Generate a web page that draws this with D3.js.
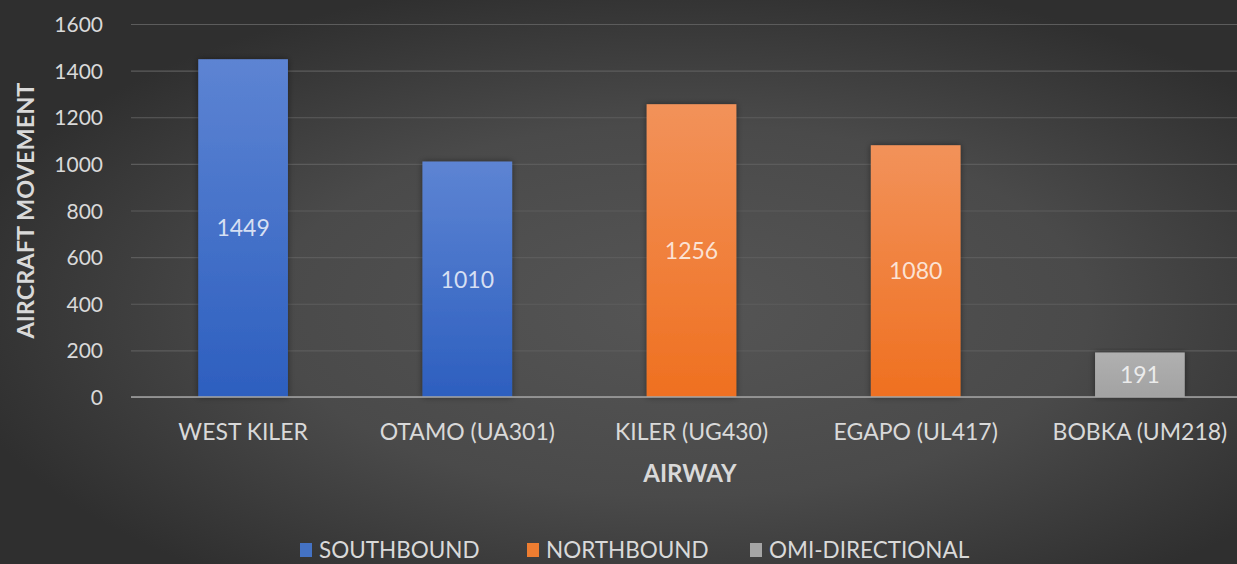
<html>
<head>
    <title>Aircraft movement per airway</title>
    <script src="https://d3js.org/d3.v7.min.js"></script>
    <style>
        body { margin: 0; background: #3a3a3a; }
        text { font-family: Lato, "Open Sans", sans-serif; }
    </style>
</head>
<body>
    <div id="cont"></div>
    <script>
        // chart data
        var airways = ['WEST KILER', 'OTAMO (UA301)', 'KILER (UG430)', 'EGAPO (UL417)', 'BOBKA (UM218)'];
        var movements = [1449, 1010, 1256, 1080, 191];
        var directions = ['SOUTHBOUND', 'SOUTHBOUND', 'NORTHBOUND', 'NORTHBOUND', 'OMI-DIRECTIONAL'];
        var seriesNames = ['SOUTHBOUND', 'NORTHBOUND', 'OMI-DIRECTIONAL'];
        var yTicks = [0, 200, 400, 600, 800, 1000, 1200, 1400, 1600];

        (function() {
            var W = 1237, H = 564,
                margin = { top: 24, right: -15, bottom: 167, left: 131 },
                height = H - margin.top - margin.bottom,
                width = W - margin.left - margin.right,
                colors = {
                    'SOUTHBOUND': ['#5d84d3', '#2d5fbf', '#4472c4'],
                    'NORTHBOUND': ['#f2925a', '#ef7020', '#ed7d31'],
                    'OMI-DIRECTIONAL': ['#b0b0b0', '#a2a2a2', '#a5a5a5']
                };

            var data = airways.map(function(a, i) {
                return { name: a, value: movements[i], dir: directions[i] };
            });

            var svg = d3.select('#cont').append('svg')
                .attr('width', W)
                .attr('height', H);

            var defs = svg.append('defs');

            var bg = defs.append('radialGradient')
                .attr('id', 'bg')
                .attr('cx', '55%').attr('cy', '55%').attr('r', '60%');
            bg.append('stop').attr('offset', '0%').attr('stop-color', '#555555');
            bg.append('stop').attr('offset', '55%').attr('stop-color', '#4a4a4a');
            bg.append('stop').attr('offset', '100%').attr('stop-color', '#2f2f2f');

            seriesNames.forEach(function(s, i) {
                var g = defs.append('linearGradient')
                    .attr('id', 'grad' + i)
                    .attr('x1', 0).attr('y1', 0).attr('x2', 0).attr('y2', 1);
                g.append('stop').attr('offset', '0%').attr('stop-color', colors[s][0]);
                g.append('stop').attr('offset', '100%').attr('stop-color', colors[s][1]);
            });

            var shadow = defs.append('filter').attr('id', 'shadow')
                .attr('x', '-20%').attr('y', '-10%').attr('width', '140%').attr('height', '120%');
            shadow.append('feDropShadow')
                .attr('dx', 0).attr('dy', 0).attr('stdDeviation', 3)
                .attr('flood-color', '#000').attr('flood-opacity', 0.45);

            svg.append('rect')
                .attr('width', W).attr('height', H)
                .attr('fill', 'url(#bg)');

            var x = d3.scaleBand()
                .domain(airways)
                .range([margin.left, margin.left + width])
                .paddingInner(0.6)
                .paddingOuter(0.3);

            var y = d3.scaleLinear()
                .domain([0, 1600])
                .range([margin.top + height, margin.top]);

            // grid
            svg.append('g')
                .attr('class', 'grid')
                .attr('transform', 'translate(' + margin.left + ',0)')
                .call(d3.axisLeft(y).tickValues(yTicks).tickSize(-width).tickFormat(''))
                .call(function(g) {
                    g.select('.domain').remove();
                    g.selectAll('line').attr('stroke', '#5c5c5c').attr('stroke-width', 1.2);
                });

            // y tick labels
            svg.append('g')
                .attr('transform', 'translate(' + (margin.left - 28) + ',0)')
                .call(d3.axisLeft(y).tickValues(yTicks).tickSize(0).tickPadding(0).tickFormat(d3.format('d')))
                .call(function(g) {
                    g.select('.domain').remove();
                    g.selectAll('text')
                        .attr('fill', '#d9d9d9')
                        .style('font-size', '21px')
                        .attr('dy', '0.36em');
                });

            // bars
            svg.selectAll('rect.bar')
                .data(data)
                .enter()
                .append('rect')
                .attr('class', 'bar')
                .attr('x', function(d) { return x(d.name); })
                .attr('width', x.bandwidth())
                .attr('y', function(d) { return y(d.value); })
                .attr('height', function(d) { return y(0) - y(d.value); })
                .attr('fill', function(d) { return 'url(#grad' + seriesNames.indexOf(d.dir) + ')'; })
                .attr('filter', 'url(#shadow)');

            // value labels
            svg.selectAll('text.val')
                .data(data)
                .enter()
                .append('text')
                .attr('class', 'val')
                .attr('x', function(d) { return x(d.name) + x.bandwidth() / 2; })
                .attr('y', function(d) { return (y(d.value) + y(0)) / 2; })
                .attr('dy', '0.36em')
                .attr('text-anchor', 'middle')
                .attr('fill', '#ffffff')
                .attr('fill-opacity', 0.78)
                .style('font-size', '23px')
                .text(function(d) { return d.value; });

            // x axis
            svg.append('g')
                .attr('transform', 'translate(0,' + y(0) + ')')
                .call(d3.axisBottom(x).tickSize(0).tickPadding(0))
                .call(function(g) {
                    g.select('.domain')
                        .attr('d', 'M' + margin.left + ',0H' + W)
                        .attr('stroke', '#a6a6a6').attr('stroke-width', 1.5);
                    g.selectAll('text')
                        .attr('fill', '#d9d9d9')
                        .attr('y', 43)
                        .attr('dy', 0)
                        .style('font-size', '23px');
                });

            // axis titles
            svg.append('text')
                .attr('x', 690).attr('y', 482)
                .attr('text-anchor', 'middle')
                .attr('fill', '#d9d9d9')
                .style('font-size', '24px').style('font-weight', 'bold')
                .text('AIRWAY');

            svg.append('text')
                .attr('transform', 'translate(34,' + y(800) + ') rotate(-90)')
                .attr('text-anchor', 'middle')
                .attr('fill', '#d9d9d9')
                .style('font-size', '23.5px').style('font-weight', 'bold')
                .text('AIRCRAFT MOVEMENT');

            // legend
            var legendX = [300, 527, 750];
            var legend = svg.append('g').selectAll('g')
                .data(seriesNames)
                .enter()
                .append('g')
                .attr('transform', function(d, i) { return 'translate(' + legendX[i] + ',543)'; });

            legend.append('rect')
                .attr('width', 12).attr('height', 14)
                .attr('fill', function(d) { return colors[d][2]; });

            legend.append('text')
                .attr('x', 19).attr('y', 15)
                .attr('fill', '#d9d9d9')
                .style('font-size', '22.5px')
                .text(function(d) { return d; });
        })();
    </script>
</body>
</html>
